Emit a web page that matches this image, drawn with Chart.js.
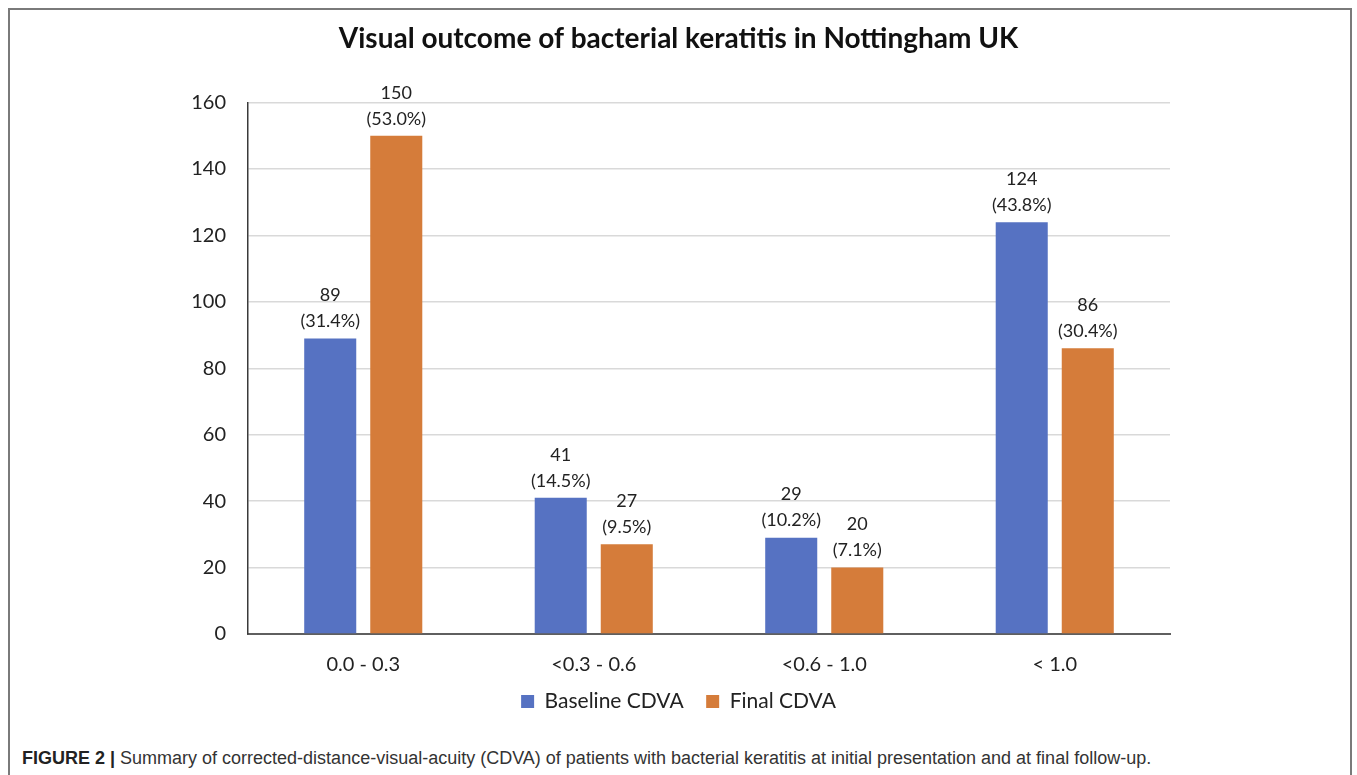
<!DOCTYPE html>
<html>
<head>
<meta charset="utf-8">
<script src="https://cdn.jsdelivr.net/npm/chart.js@4/dist/chart.umd.min.js"></script>
<style>
  html, body { margin: 0; padding: 0; background: #fff; }
  body { width: 1357px; height: 775px; position: relative; overflow: hidden; }
  #frame {
    position: absolute; left: 8px; top: 8px; width: 1344px; height: 800px;
    border: 2px solid #7a7a7a; box-sizing: border-box;
  }
  #wrap { position: absolute; left: 0; top: 0; width: 1357px; height: 722px; }
  #caption {
    position: absolute; left: 22px; top: 748px;
    font-family: "Liberation Sans", Arial, sans-serif; font-size: 18px; color: #333;
    white-space: nowrap;
  }
  #caption b { color: #222; }
</style>
</head>
<body>
<div id="frame"></div>
<div id="wrap"><canvas id="chart" width="1357" height="722"></canvas></div>
<div id="caption"><b>FIGURE 2 |</b> Summary of corrected-distance-visual-acuity (CDVA) of patients with bacterial keratitis at initial presentation and at final follow-up.</div>
<script>
// Visual acuity bands (logMAR) and patient counts
const categories = ['0.0 - 0.3', '<0.3 - 0.6', '<0.6 - 1.0', '< 1.0'];
const baselineCounts = [89, 41, 29, 124];
const finalCounts = [150, 27, 20, 86];
const baselinePercents = ['31.4%', '14.5%', '10.2%', '43.8%'];
const finalPercents = ['53.0%', '9.5%', '7.1%', '30.4%'];
const yTicks = [0, 20, 40, 60, 80, 100, 120, 140, 160];

const FONT = 'Lato, "Open Sans", sans-serif';

// Two-line value labels ("count" over "(percent)") above each bar
const valueLabels = {
  id: 'valueLabels',
  afterDatasetsDraw(chart) {
    const ctx = chart.ctx;
    const pcts = [baselinePercents, finalPercents];
    ctx.save();
    ctx.fillStyle = '#222';
    ctx.font = '18px ' + FONT;
    ctx.textAlign = 'center';
    ctx.textBaseline = 'middle';
    chart.data.datasets.forEach((ds, di) => {
      const meta = chart.getDatasetMeta(di);
      meta.data.forEach((bar, i) => {
        ctx.fillText(String(ds.data[i]), bar.x, bar.y - 43);
        ctx.fillText('(' + pcts[di][i] + ')', bar.x, bar.y - 17);
      });
    });
    ctx.restore();
  }
};

new Chart(document.getElementById('chart'), {
  type: 'bar',
  data: {
    labels: categories,
    datasets: [
      { label: 'Baseline CDVA', data: baselineCounts, backgroundColor: '#5672C2' },
      { label: 'Final CDVA', data: finalCounts, backgroundColor: '#D57C3A' }
    ]
  },
  options: {
    responsive: false,
    animation: false,
    devicePixelRatio: 1,
    categoryPercentage: 0.573,
    barPercentage: 0.788,
    layout: { padding: { left: 10, right: 10, top: 9, bottom: 0 } },
    plugins: {
      title: {
        display: true,
        text: 'Visual outcome of bacterial keratitis in Nottingham UK',
        color: '#111',
        font: { family: FONT, size: 28, weight: 'bold' },
        padding: { top: 13, bottom: 47 }
      },
      legend: {
        position: 'bottom',
        labels: {
          color: '#222',
          font: { family: FONT, size: 21 },
          boxWidth: 13,
          boxHeight: 13,
          padding: 12,
          // widen the gap after each entry's text
          generateLabels(chart) {
            const items = Chart.defaults.plugins.legend.labels.generateLabels(chart);
            items.forEach((it, i) => { if (i < items.length - 1) it.text = it.text + '\u2002'; });
            return items;
          }
        }
      },
      tooltip: { enabled: false }
    },
    scales: {
      x: {
        afterFit(scale) { scale.height = scale.height - 17; },
        grid: { display: false, drawTicks: false },
        border: { display: true, color: '#5f5f5f', width: 2 },
        ticks: { color: '#222', font: { family: FONT, size: 20 }, padding: 19 }
      },
      y: {
        min: 0,
        max: 160,
        afterFit(scale) { scale.width = 238; },
        afterBuildTicks(scale) { scale.ticks = yTicks.map(v => ({ value: v })); },
        grid: { color: '#d9d9d9', lineWidth: 1.5, drawTicks: false },
        border: { display: true, color: '#3a3a3a', width: 1.5 },
        ticks: { color: '#222', font: { family: FONT, size: 20 }, padding: 22 }
      },
      // empty right-hand margin axis keeps the plot clear of the right side
      yRight: {
        position: 'right',
        min: 0,
        max: 1,
        afterFit(scale) { scale.width = 177; },
        grid: { display: false, drawTicks: false },
        border: { display: false },
        ticks: { display: false }
      }
    }
  },
  plugins: [valueLabels]
});
</script>
</body>
</html>
